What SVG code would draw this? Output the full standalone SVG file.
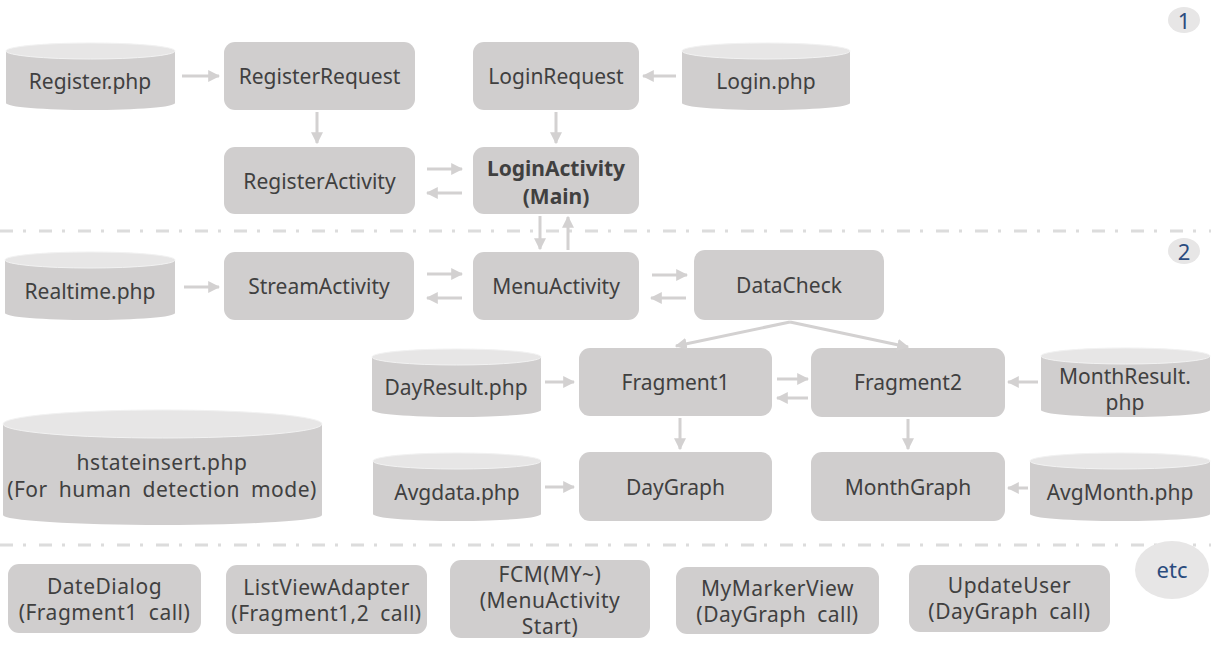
<svg xmlns="http://www.w3.org/2000/svg" width="1211" height="658" viewBox="0 0 1211 658">
<style>
.box{fill:#d0cece}
.cyl{fill:#d0cece}
.top{fill:#e7e6e6;stroke:#f2f2f2;stroke-width:1}
.t{font-family:"Noto Sans","Liberation Sans",sans-serif;font-size:21px;fill:#404040;text-anchor:middle;dominant-baseline:central}
.l{letter-spacing:0.5px;word-spacing:5px}
.b{font-weight:bold}
.badge{fill:#e7e6e6}
.bt{font-family:"Noto Sans","Liberation Sans",sans-serif;font-size:22px;fill:#2b4c7e;text-anchor:middle;dominant-baseline:central}
.sep{stroke:#dcdcdc;stroke-width:3;stroke-dasharray:13 10 3 13;fill:none}
.c line{stroke:#d3d1d1;stroke-width:3;marker-end:url(#ah)}
</style>
<defs>
<marker id="ah" viewBox="0 0 10 10" refX="9" refY="5" markerWidth="4" markerHeight="4" orient="auto" markerUnits="strokeWidth">
<path d="M0,0 L10,5 L0,10 z" fill="#d3d1d1"/>
</marker>
</defs>
<rect width="1211" height="658" fill="#ffffff"/>
<line class="sep" x1="0" y1="231" x2="1211" y2="231"/>
<line class="sep" x1="0" y1="545" x2="1211" y2="545"/>

<g id="badge1"><ellipse class="badge" cx="1184" cy="20" rx="16" ry="13"/><text class="bt" x="1184" y="20">1</text></g>
<g id="badge2"><ellipse class="badge" cx="1184" cy="251" rx="16" ry="13"/><text class="bt" x="1184" y="251">2</text></g>
<g id="badge-etc"><ellipse class="badge" cx="1172" cy="570" rx="37" ry="29"/><text class="bt" x="1172" y="569">etc</text></g>

<g id="register-php"><path class="cyl" d="M6,51 L6,103 A84.5,7 0 0 0 175,103 L175,51 z"/><ellipse class="top" cx="90.5" cy="51" rx="84.5" ry="8"/><text class="t" x="90" y="81">Register.php</text></g>
<g id="register-request"><rect class="box" x="224" y="42" width="191" height="68" rx="11"/><text class="t" x="319.5" y="76">RegisterRequest</text></g>
<g id="login-request"><rect class="box" x="473" y="42" width="166" height="68" rx="11"/><text class="t" x="556" y="76">LoginRequest</text></g>
<g id="login-php"><path class="cyl" d="M682,51 L682,103 A84,7 0 0 0 850,103 L850,51 z"/><ellipse class="top" cx="766" cy="51" rx="84" ry="8"/><text class="t" x="766" y="81">Login.php</text></g>
<g id="register-activity"><rect class="box" x="224" y="147" width="191" height="67" rx="11"/><text class="t" x="319.5" y="181">RegisterActivity</text></g>
<g id="login-activity"><rect class="box" x="473" y="147" width="166" height="67" rx="11"/><text class="t b" x="556" y="168">LoginActivity</text><text class="t b" x="556" y="196">(Main)</text></g>

<g id="realtime-php"><path class="cyl" d="M5,260 L5,313 A85,7 0 0 0 175,313 L175,260 z"/><ellipse class="top" cx="90" cy="260" rx="85" ry="8"/><text class="t" x="90" y="291">Realtime.php</text></g>
<g id="stream-activity"><rect class="box" x="224" y="252" width="190" height="68" rx="11"/><text class="t" x="319" y="286">StreamActivity</text></g>
<g id="menu-activity"><rect class="box" x="473" y="252" width="166" height="68" rx="11"/><text class="t" x="556" y="286">MenuActivity</text></g>
<g id="data-check"><rect class="box" x="694" y="250" width="190" height="70" rx="11"/><text class="t" x="789" y="285">DataCheck</text></g>

<g id="dayresult-php"><path class="cyl" d="M372,357 L372,410 A84.5,7 0 0 0 541,410 L541,357 z"/><ellipse class="top" cx="456.5" cy="357" rx="84.5" ry="8"/><text class="t" x="456" y="387">DayResult.php</text></g>
<g id="fragment1"><rect class="box" x="579" y="348" width="193" height="68" rx="11"/><text class="t" x="675.5" y="382">Fragment1</text></g>
<g id="fragment2"><rect class="box" x="811" y="348" width="194" height="69" rx="11"/><text class="t" x="908" y="382">Fragment2</text></g>
<g id="monthresult-php"><path class="cyl" d="M1041,356 L1041,410 A84.5,7 0 0 0 1210,410 L1210,356 z"/><ellipse class="top" cx="1125.5" cy="356" rx="84.5" ry="8"/><text class="t" x="1125" y="376">MonthResult.</text><text class="t" x="1125" y="402">php</text></g>

<g id="hstateinsert-php"><path class="cyl" d="M3,424 L3,515 A159.5,10 0 0 0 322,515 L322,424 z"/><ellipse class="top" cx="162.5" cy="424" rx="159.5" ry="14"/><text class="t l" x="162" y="462">hstateinsert.php</text><text class="t l" x="162" y="489">(For human detection mode)</text></g>
<g id="avgdata-php"><path class="cyl" d="M373,461 L373,514 A84,7 0 0 0 541,514 L541,461 z"/><ellipse class="top" cx="457" cy="461" rx="84" ry="8"/><text class="t" x="457" y="492">Avgdata.php</text></g>
<g id="day-graph"><rect class="box" x="579" y="452" width="193" height="69" rx="11"/><text class="t" x="675.5" y="487">DayGraph</text></g>
<g id="month-graph"><rect class="box" x="811" y="452" width="194" height="69" rx="11"/><text class="t" x="908" y="487">MonthGraph</text></g>
<g id="avgmonth-php"><path class="cyl" d="M1030,461 L1030,514 A90,7 0 0 0 1210,514 L1210,461 z"/><ellipse class="top" cx="1120" cy="461" rx="90" ry="8"/><text class="t" x="1120" y="492">AvgMonth.php</text></g>

<g id="date-dialog"><rect class="box" x="8" y="564" width="193" height="69" rx="11"/><text class="t l" x="104.5" y="586">DateDialog</text><text class="t l" x="104.5" y="612">(Fragment1 call)</text></g>
<g id="list-view-adapter"><rect class="box" x="226" y="565" width="201" height="69" rx="11"/><text class="t l" x="326.5" y="587">ListViewAdapter</text><text class="t l" x="326.5" y="613">(Fragment1,2 call)</text></g>
<g id="fcm"><rect class="box" x="450" y="560" width="200" height="78" rx="11"/><text class="t l" x="550" y="574">FCM(MY~)</text><text class="t l" x="550" y="600">(MenuActivity</text><text class="t l" x="550" y="626">Start)</text></g>
<g id="my-marker-view"><rect class="box" x="676" y="567" width="203" height="67" rx="11"/><text class="t l" x="777.5" y="588">MyMarkerView</text><text class="t l" x="777.5" y="614">(DayGraph call)</text></g>
<g id="update-user"><rect class="box" x="909" y="565" width="201" height="67" rx="11"/><text class="t l" x="1009.5" y="585">UpdateUser</text><text class="t l" x="1009.5" y="611">(DayGraph call)</text></g>

<g id="connectors" class="c">
<line x1="182" y1="76" x2="219" y2="76"/>
<line x1="317" y1="112" x2="317" y2="143"/>
<line x1="676" y1="76" x2="643" y2="76"/>
<line x1="556" y1="112" x2="556" y2="143"/>
<line x1="427" y1="169" x2="462" y2="169"/>
<line x1="462" y1="193" x2="427" y2="193"/>
<line x1="540" y1="216" x2="540" y2="249"/>
<line x1="568" y1="250" x2="568" y2="217"/>
<line x1="184" y1="287" x2="219" y2="287"/>
<line x1="427" y1="274" x2="462" y2="274"/>
<line x1="462" y1="298" x2="427" y2="298"/>
<line x1="652" y1="275" x2="687" y2="275"/>
<line x1="686" y1="298" x2="651" y2="298"/>
<line x1="790" y1="322" x2="676" y2="346"/>
<line x1="790" y1="322" x2="908" y2="347"/>
<line x1="545" y1="382" x2="574" y2="382"/>
<line x1="777" y1="379" x2="808" y2="379"/>
<line x1="808" y1="398" x2="777" y2="398"/>
<line x1="1038" y1="382" x2="1008" y2="382"/>
<line x1="680" y1="418" x2="680" y2="449"/>
<line x1="908" y1="419" x2="908" y2="449"/>
<line x1="545" y1="487" x2="574" y2="487"/>
<line x1="1028" y1="488" x2="1008" y2="488"/>
</g>
</svg>
